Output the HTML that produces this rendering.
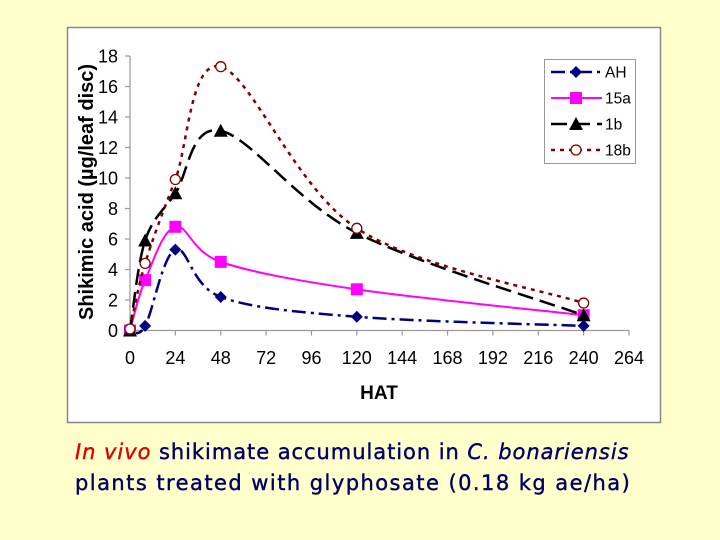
<!DOCTYPE html>
<html><head><meta charset="utf-8"><style>
html,body{margin:0;padding:0;}
body{width:720px;height:540px;background:#ffffcc;position:relative;overflow:hidden;font-family:"Liberation Sans",sans-serif;}
#caption{position:absolute;left:75px;top:437px;width:640px;font-family:"DejaVu Sans","Liberation Sans",sans-serif;font-size:21px;line-height:31px;color:#000066;white-space:nowrap;-webkit-text-stroke:0.4px #000066;}
#caption .r{color:#e00000;font-style:italic;-webkit-text-stroke:0.4px #e00000;}
#l1{letter-spacing:0.95px;}
#l2{letter-spacing:1.45px;}
</style></head><body>
<svg id="chart" width="720" height="540" style="position:absolute;left:0;top:0"></svg>
<div id="caption"><div id="l1"><span class="r">In vivo</span> shikimate accumulation in <i>C. bonariensis</i></div><div id="l2">plants treated with glyphosate (0.18 kg ae/ha)</div></div>
<script>
const hours = [0, 8, 24, 48, 120, 240];
const seriesNames = ["AH", "15a", "1b", "18b"];
const valuesAH = [0, 0.3, 5.3, 2.2, 0.9, 0.3];
const values15a = [0, 3.3, 6.8, 4.5, 2.7, 1.0];
const values1b = [0, 5.9, 9.0, 13.1, 6.4, 1.0];
const values18b = [0.1, 4.4, 9.9, 17.3, 6.7, 1.8];
const xTicks = [0, 24, 48, 72, 96, 120, 144, 168, 192, 216, 240, 264];
const yTicks = [0, 2, 4, 6, 8, 10, 12, 14, 16, 18];

const NS = "http://www.w3.org/2000/svg";
const svg = document.getElementById("chart");
const X0 = 130, X1 = 629, Y0 = 330.5, Y1 = 56;
const sx = v => X0 + (v - 0) / 264 * (X1 - X0);
const sy = v => Y0 - v / 18 * (Y0 - Y1);
function mk(tag, attrs, parent) {
  const e = document.createElementNS(NS, tag);
  for (const k in attrs) e.setAttribute(k, attrs[k]);
  (parent || svg).appendChild(e);
  return e;
}
const frame = mk("rect", {x: 67.5, y: 27.5, width: 593, height: 395, fill: "#fff", stroke: "#888", "stroke-width": 1.5});


const axes = mk("g", {stroke: "#999", "stroke-width": 1.2});


mk("line", {x1: X0, y1: Y1, x2: X0, y2: Y0}, axes);
mk("line", {x1: X0, y1: Y0, x2: X1, y2: Y0}, axes);
yTicks.forEach(t => {
  mk("line", {x1: X0 - 5, y1: sy(t), x2: X0, y2: sy(t)}, axes);
  const tx = mk("text", {x: X0 - 12, y: sy(t) + 6.5, "text-anchor": "end", "font-size": 18, fill: "#000"});
  tx.textContent = t;
  
  
});
xTicks.forEach(t => {
  mk("line", {x1: sx(t), y1: Y0, x2: sx(t), y2: Y0 + 5}, axes);
  const tx = mk("text", {x: sx(t), y: 364, "text-anchor": "middle", "font-size": 18, fill: "#000"});
  tx.textContent = t;
  
  
});
const xt = mk("text", {x: 379, y: 399, "text-anchor": "middle", "font-size": 19, "font-weight": "bold"});
xt.textContent = "HAT";


const yt = mk("text", {x: 0, y: 0, transform: "translate(93,192) rotate(-90)", "text-anchor": "middle", "font-size": 20, "font-weight": "bold"});
yt.textContent = "Shikimic acid (µg/leaf disc)";



function smooth(pts) {
  let d = "M" + pts[0][0] + "," + pts[0][1];
  for (let i = 0; i < pts.length - 1; i++) {
    const p0 = pts[i - 1] || pts[i], p1 = pts[i], p2 = pts[i + 1], p3 = pts[i + 2] || p2;
    const c1 = [p1[0] + (p2[0] - p0[0]) / 6, p1[1] + (p2[1] - p0[1]) / 6];
    const c2 = [p2[0] - (p3[0] - p1[0]) / 6, p2[1] - (p3[1] - p1[1]) / 6];
    d += " C" + c1 + " " + c2 + " " + p2;
  }
  return d;
}
const styles = [
  {color: "#000080", dash: "14,5,3,5", w: 2.5, marker: "diamond"},
  {color: "#ff00ff", dash: "", w: 2, marker: "square"},
  {color: "#000000", dash: "16,7", w: 2.5, marker: "triangle"},
  {color: "#800000", dash: "4,5", w: 2.5, marker: "circle"}
];
const allVals = [valuesAH, values15a, values1b, values18b];
function marker(type, x, y, st, g) {
  if (type === "diamond") mk("path", {d: `M${x},${y-6}L${x+6},${y}L${x},${y+6}L${x-6},${y}Z`, fill: st.color}, g);
  else if (type === "square") mk("rect", {x: x-6, y: y-6, width: 12, height: 12, fill: st.color}, g);
  else if (type === "triangle") mk("path", {d: `M${x},${y-7}L${x+7},${y+6}L${x-7},${y+6}Z`, fill: st.color}, g);
  else mk("circle", {cx: x, cy: y, r: 5, fill: "#fff", stroke: st.color, "stroke-width": 1.3}, g);
}
allVals.forEach((vals, i) => {
  const st = styles[i];
  const g = mk("g", {});
  
  
  const pts = hours.map((h, j) => [sx(h), sy(vals[j])]);
  mk("path", {d: smooth(pts), fill: "none", stroke: st.color, "stroke-width": st.w, "stroke-dasharray": st.dash}, g);
  pts.forEach(p => marker(st.marker, p[0], p[1], st, g));
});
const lg = mk("g", {});


mk("rect", {x: 544.5, y: 59.5, width: 91, height: 104, fill: "#fff", stroke: "#999"}, lg);
seriesNames.forEach((n, i) => {
  const st = styles[i];
  const y = 72 + i * 26;
  const e = mk("g", {}, lg);
  
  
  mk("line", {x1: 551, y1: y, x2: 602, y2: y, stroke: st.color, "stroke-width": st.w, "stroke-dasharray": st.dash}, e);
  marker(st.marker, 576, y, st, e);
  const t = mk("text", {x: 605, y: y + 5.5, "font-size": 15.5}, e);
  t.textContent = n;
});
</script>
</body></html>
